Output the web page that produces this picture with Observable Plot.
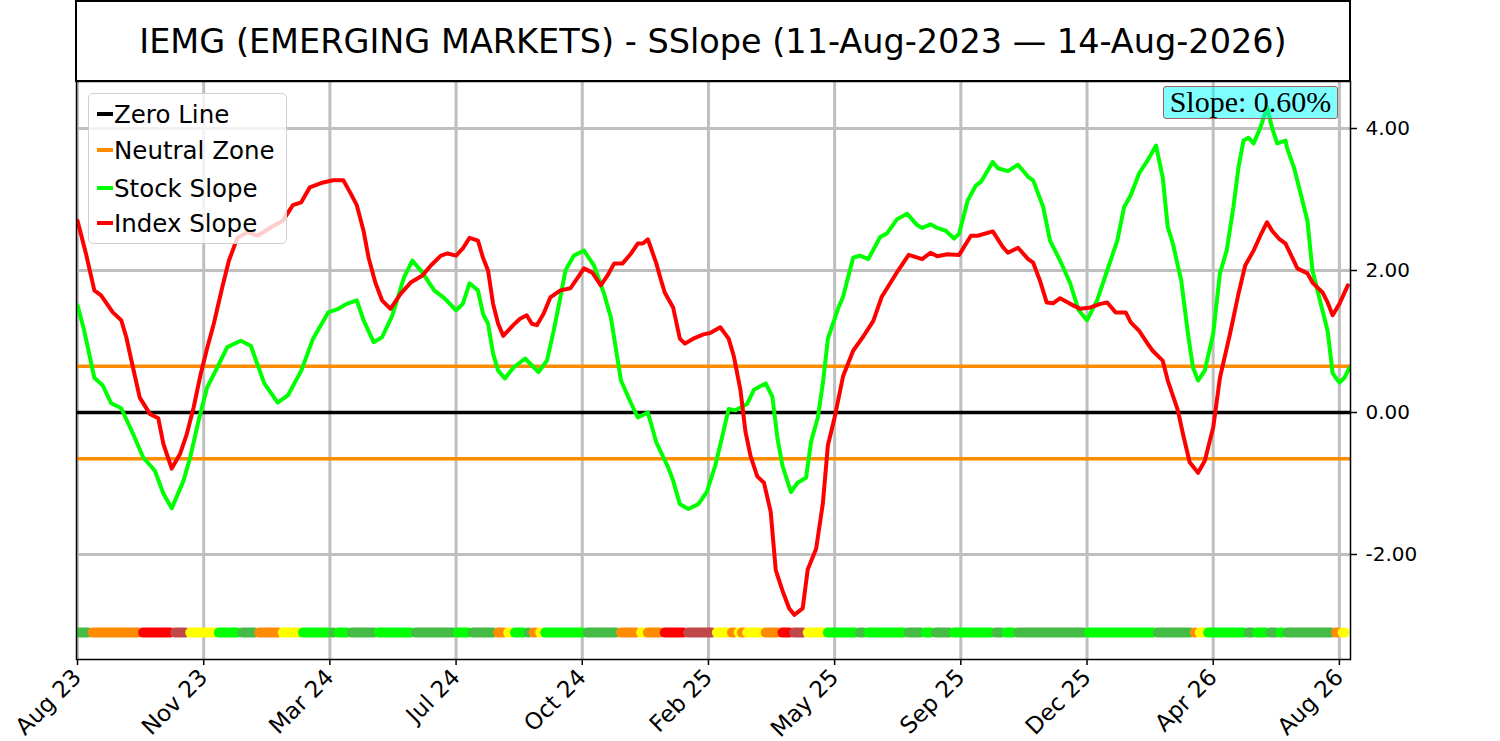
<!DOCTYPE html>
<html><head><meta charset="utf-8">
<script src="https://cdn.jsdelivr.net/npm/d3@7"></script>
<script src="https://cdn.jsdelivr.net/npm/@observablehq/plot@0.6"></script>
<style>
body{margin:0;background:#fff;font-family:"DejaVu Sans",sans-serif;}
#wrap{position:relative;width:1500px;height:741px;overflow:hidden;}
#title{position:absolute;left:75px;top:0;width:1276px;height:82px;box-sizing:border-box;border:2px solid #000;display:flex;align-items:center;justify-content:center;font-size:33.5px;color:#000;background:#fff;}
#chart{position:absolute;left:0;top:81px;}
#legend{position:absolute;left:88px;top:93px;width:199px;height:151px;box-sizing:border-box;border:1.5px solid #d0d0d0;border-radius:5px;background:rgba(255,255,255,0.8);}
.row{position:absolute;left:8px;height:30px;display:flex;align-items:center;font-size:24.5px;color:#000;white-space:nowrap;}
.sw{width:16px;height:4px;margin-right:1px;}
#slope{position:absolute;left:1163px;top:86px;width:175px;height:33px;box-sizing:border-box;border:1.5px solid #a06060;border-radius:3px;background:rgba(0,255,255,0.5);font-family:"Liberation Serif",serif;font-size:30px;line-height:30px;text-align:center;color:#000;}
</style>
</head><body>
<div id="wrap">
  <div id="title">IEMG (EMERGING MARKETS) - SSlope (11-Aug-2023 — 14-Aug-2026)</div>
  <div id="chart"></div>
  <div id="legend"></div>
  <div id="slope"></div>
</div>
<script>
// ---- data ----
const xTicks = [0, 75, 150, 225, 300, 375, 450, 525, 600, 675, 750];
const xLabels = ["Aug 23","Nov 23","Mar 24","Jul 24","Oct 24","Feb 25","May 25","Sep 25","Dec 25","Apr 26","Aug 26"];
const yTicks = [-2, 0, 2, 4];
const zeroLine = [0];
const neutralZone = [0.65, -0.65];
const slopeText = "Slope: 0.60%";

const stockIdx = [0,4,10,15,20,26,33,39,46,51,56,63,67,72,77,83,89,97,103,111,119,125,133,140,149,155,160,166,170,176,181,187,194,199,205,212,218,225,229,233,238,241,244,247,250,254,259,266,274,279,283,287,290,295,301,307,313,317,323,329,333,339,344,351,354,358,363,369,374,379,383,387,391,398,402,409,413,416,419,424,428,433,436,440,443,446,452,455,461,465,470,477,481,487,493,499,502,507,511,516,521,524,529,534,537,544,547,553,559,565,568,574,578,584,590,595,600,606,612,618,622,626,631,636,641,645,648,651,656,660,663,666,670,675,679,683,687,690,693,696,699,703,707,710,713,718,719,723,727,731,734,738,743,746,750,753,756];
const stockSlope = [1.51,1.15,0.49,0.38,0.13,0.06,-0.30,-0.63,-0.82,-1.14,-1.35,-0.96,-0.63,-0.11,0.35,0.63,0.92,1.01,0.94,0.41,0.14,0.24,0.59,1.04,1.41,1.46,1.53,1.58,1.30,0.99,1.06,1.36,1.90,2.14,1.97,1.72,1.61,1.44,1.53,1.82,1.72,1.39,1.25,0.83,0.59,0.48,0.63,0.76,0.57,0.73,1.15,1.62,2.00,2.21,2.28,2.07,1.67,1.34,0.45,0.13,-0.07,0.00,-0.42,-0.77,-0.96,-1.29,-1.36,-1.29,-1.12,-0.75,-0.36,0.05,0.03,0.12,0.32,0.41,0.22,-0.36,-0.75,-1.12,-0.99,-0.92,-0.41,-0.07,0.41,1.04,1.46,1.63,2.18,2.21,2.16,2.47,2.52,2.72,2.80,2.64,2.60,2.65,2.60,2.56,2.45,2.52,2.98,3.20,3.25,3.53,3.44,3.40,3.49,3.32,3.27,2.89,2.42,2.14,1.82,1.44,1.30,1.58,2.00,2.42,2.89,3.06,3.37,3.55,3.76,3.31,2.61,2.38,1.86,1.11,0.63,0.45,0.59,1.11,1.96,2.28,2.89,3.45,3.83,3.87,3.79,4.01,4.30,4.01,3.79,3.83,3.72,3.45,3.08,2.70,2.00,1.62,1.15,0.55,0.42,0.49,0.63];

const indexIdx = [0,5,10,14,21,26,29,33,37,43,48,51,56,61,65,69,73,77,81,86,90,95,101,107,115,122,128,133,138,146,152,158,162,166,170,173,177,181,186,192,198,205,210,216,220,225,229,233,238,241,244,247,250,253,259,263,267,270,273,277,281,287,293,297,301,306,311,315,319,324,329,333,336,339,344,346,349,354,358,361,366,372,376,382,387,390,394,397,400,404,408,412,415,419,423,426,431,434,439,443,446,450,455,461,467,473,478,483,488,494,502,507,511,517,524,531,535,544,550,553,559,565,568,572,576,580,584,590,596,602,608,612,617,623,626,631,636,639,645,648,654,657,661,666,670,675,679,685,690,694,699,703,707,710,714,718,722,725,731,734,740,743,746,750,755];
const indexSlope = [2.70,2.24,1.72,1.65,1.41,1.30,1.06,0.63,0.21,-0.02,-0.08,-0.44,-0.79,-0.58,-0.30,0.07,0.52,0.90,1.25,1.76,2.14,2.46,2.54,2.49,2.61,2.70,2.92,2.96,3.17,3.24,3.27,3.27,3.10,2.92,2.56,2.18,1.83,1.58,1.46,1.67,1.83,1.93,2.07,2.21,2.24,2.21,2.31,2.46,2.42,2.18,2.00,1.53,1.25,1.08,1.23,1.32,1.37,1.25,1.23,1.39,1.62,1.72,1.75,1.89,2.03,1.97,1.79,1.93,2.10,2.10,2.24,2.38,2.38,2.44,2.10,1.93,1.69,1.48,1.04,0.97,1.04,1.10,1.12,1.20,1.04,0.80,0.32,-0.27,-0.61,-0.90,-0.99,-1.40,-2.22,-2.51,-2.76,-2.85,-2.76,-2.21,-1.92,-1.28,-0.46,-0.07,0.51,0.87,1.07,1.29,1.63,1.82,2.01,2.22,2.16,2.25,2.20,2.23,2.22,2.49,2.49,2.55,2.33,2.25,2.32,2.16,2.11,1.86,1.55,1.54,1.61,1.53,1.46,1.48,1.53,1.55,1.41,1.41,1.27,1.15,0.97,0.87,0.73,0.45,0.03,-0.30,-0.70,-0.85,-0.68,-0.21,0.49,1.11,1.67,2.07,2.28,2.49,2.68,2.56,2.45,2.38,2.18,2.03,1.96,1.83,1.69,1.55,1.37,1.53,1.79];

// signal strip: start index of each run and its state
const stripLevel = -3.10;
const stripEnd = 756;
const stripStart = [0,6,36,55,64,81,95,105,119,131,149,152,160,176,198,223,232,247,253,257,265,268,272,275,300,320,332,336,346,360,377,386,390,393,395,406,416,423,431,443,462,467,491,501,507,518,543,549,556,598,639,661,664,669,693,698,706,712,716,745,749];
const stripState = ["up","neutralDown","down","weakDown","neutralUp","strongUp","up","neutralDown","neutralUp","strongUp","up","strongUp","up","strongUp","up","strongUp","up","neutralDown","neutralUp","strongUp","up","neutralDown","neutralUp","strongUp","up","neutralDown","neutralUp","neutralDown","down","weakDown","neutralUp","neutralDown","neutralUp","neutralDown","neutralUp","neutralDown","down","weakDown","neutralUp","strongUp","up","strongUp","up","strongUp","up","strongUp","up","strongUp","up","strongUp","up","neutralDown","neutralUp","strongUp","up","strongUp","up","strongUp","up","neutralDown","neutralUp"];
const stateColor = {strongUp:"#00ff00", up:"#44bb44", neutralUp:"#ffff00", neutralDown:"#ff8c00", down:"#ff0000", weakDown:"#c04848"};

const legendItems = [
  {label:"Zero Line", color:"#000000"},
  {label:"Neutral Zone", color:"#ff8c00"},
  {label:"Stock Slope", color:"#00ff00"},
  {label:"Index Slope", color:"#ff0000"}
];

// ---- build tables ----
const stock = stockIdx.map((x, i) => ({x, y: stockSlope[i]}));
const index = indexIdx.map((x, i) => ({x, y: indexSlope[i]}));
const capR = 3; // dot radius in index units
const strip = stripStart.map((s, i) => {
  const last = i === stripStart.length - 1;
  const e = last ? stripEnd : stripStart[i + 1];
  return {x1: i === 0 ? s : s + capR, x2: last ? e - capR : e, color: stateColor[stripState[i]]};
});

const chart = Plot.plot({
  width: 1500, height: 660,
  marginLeft: 76, marginRight: 150, marginTop: 0, marginBottom: 82,
  x: {domain: [-0.6, 756.6], label: null},
  y: {domain: [-3.479, 4.662], label: null},
  style: {fontFamily: "DejaVu Sans", fontSize: "20px", background: "transparent", color: "#000", overflow: "visible"},
  marks: [
    Plot.gridX({ticks: xTicks, stroke: "#bfbfbf", strokeOpacity: 1, strokeWidth: 3}),
    Plot.gridY({ticks: yTicks, stroke: "#bfbfbf", strokeOpacity: 1, strokeWidth: 3}),
    Plot.ruleY(zeroLine, {stroke: "#000", strokeWidth: 3.5}),
    Plot.ruleY(neutralZone, {stroke: "#ff8c00", strokeWidth: 3.5}),
    Plot.line(stock, {x: "x", y: "y", stroke: "#00ff00", strokeWidth: 4, clip: true}),
    Plot.line(index, {x: "x", y: "y", stroke: "#ff0000", strokeWidth: 4, clip: true}),
    Plot.link(strip, {x1: "x1", x2: "x2", y1: () => stripLevel, y2: () => stripLevel, stroke: "color", strokeWidth: 10, strokeLinecap: "round", clip: true}),
    Plot.frame({stroke: "#000", strokeWidth: 1.5}),
    Plot.axisX({ticks: xTicks, label: null, tickFormat: d => xLabels[xTicks.indexOf(d)], tickRotate: -45, tickSize: 6, tickPadding: 8, fontSize: 23, stroke: "#000", strokeWidth: 1.5}),
    Plot.axisY({anchor: "right", label: null, ticks: yTicks, tickFormat: d => d.toFixed(2), tickSize: 6, tickPadding: 9, fontSize: 20, stroke: "#000", strokeWidth: 1.5})
  ]
});
document.getElementById("chart").appendChild(chart);

const lg = document.getElementById("legend");
const rowTops = [5, 41, 79, 114];
legendItems.forEach((it, i) => {
  const r = document.createElement("div");
  r.className = "row";
  r.style.top = rowTops[i] + "px";
  r.innerHTML = `<span class="sw" style="background:${it.color}"></span><span>${it.label}</span>`;
  lg.appendChild(r);
});
document.getElementById("slope").textContent = slopeText;
</script>
</body></html>
